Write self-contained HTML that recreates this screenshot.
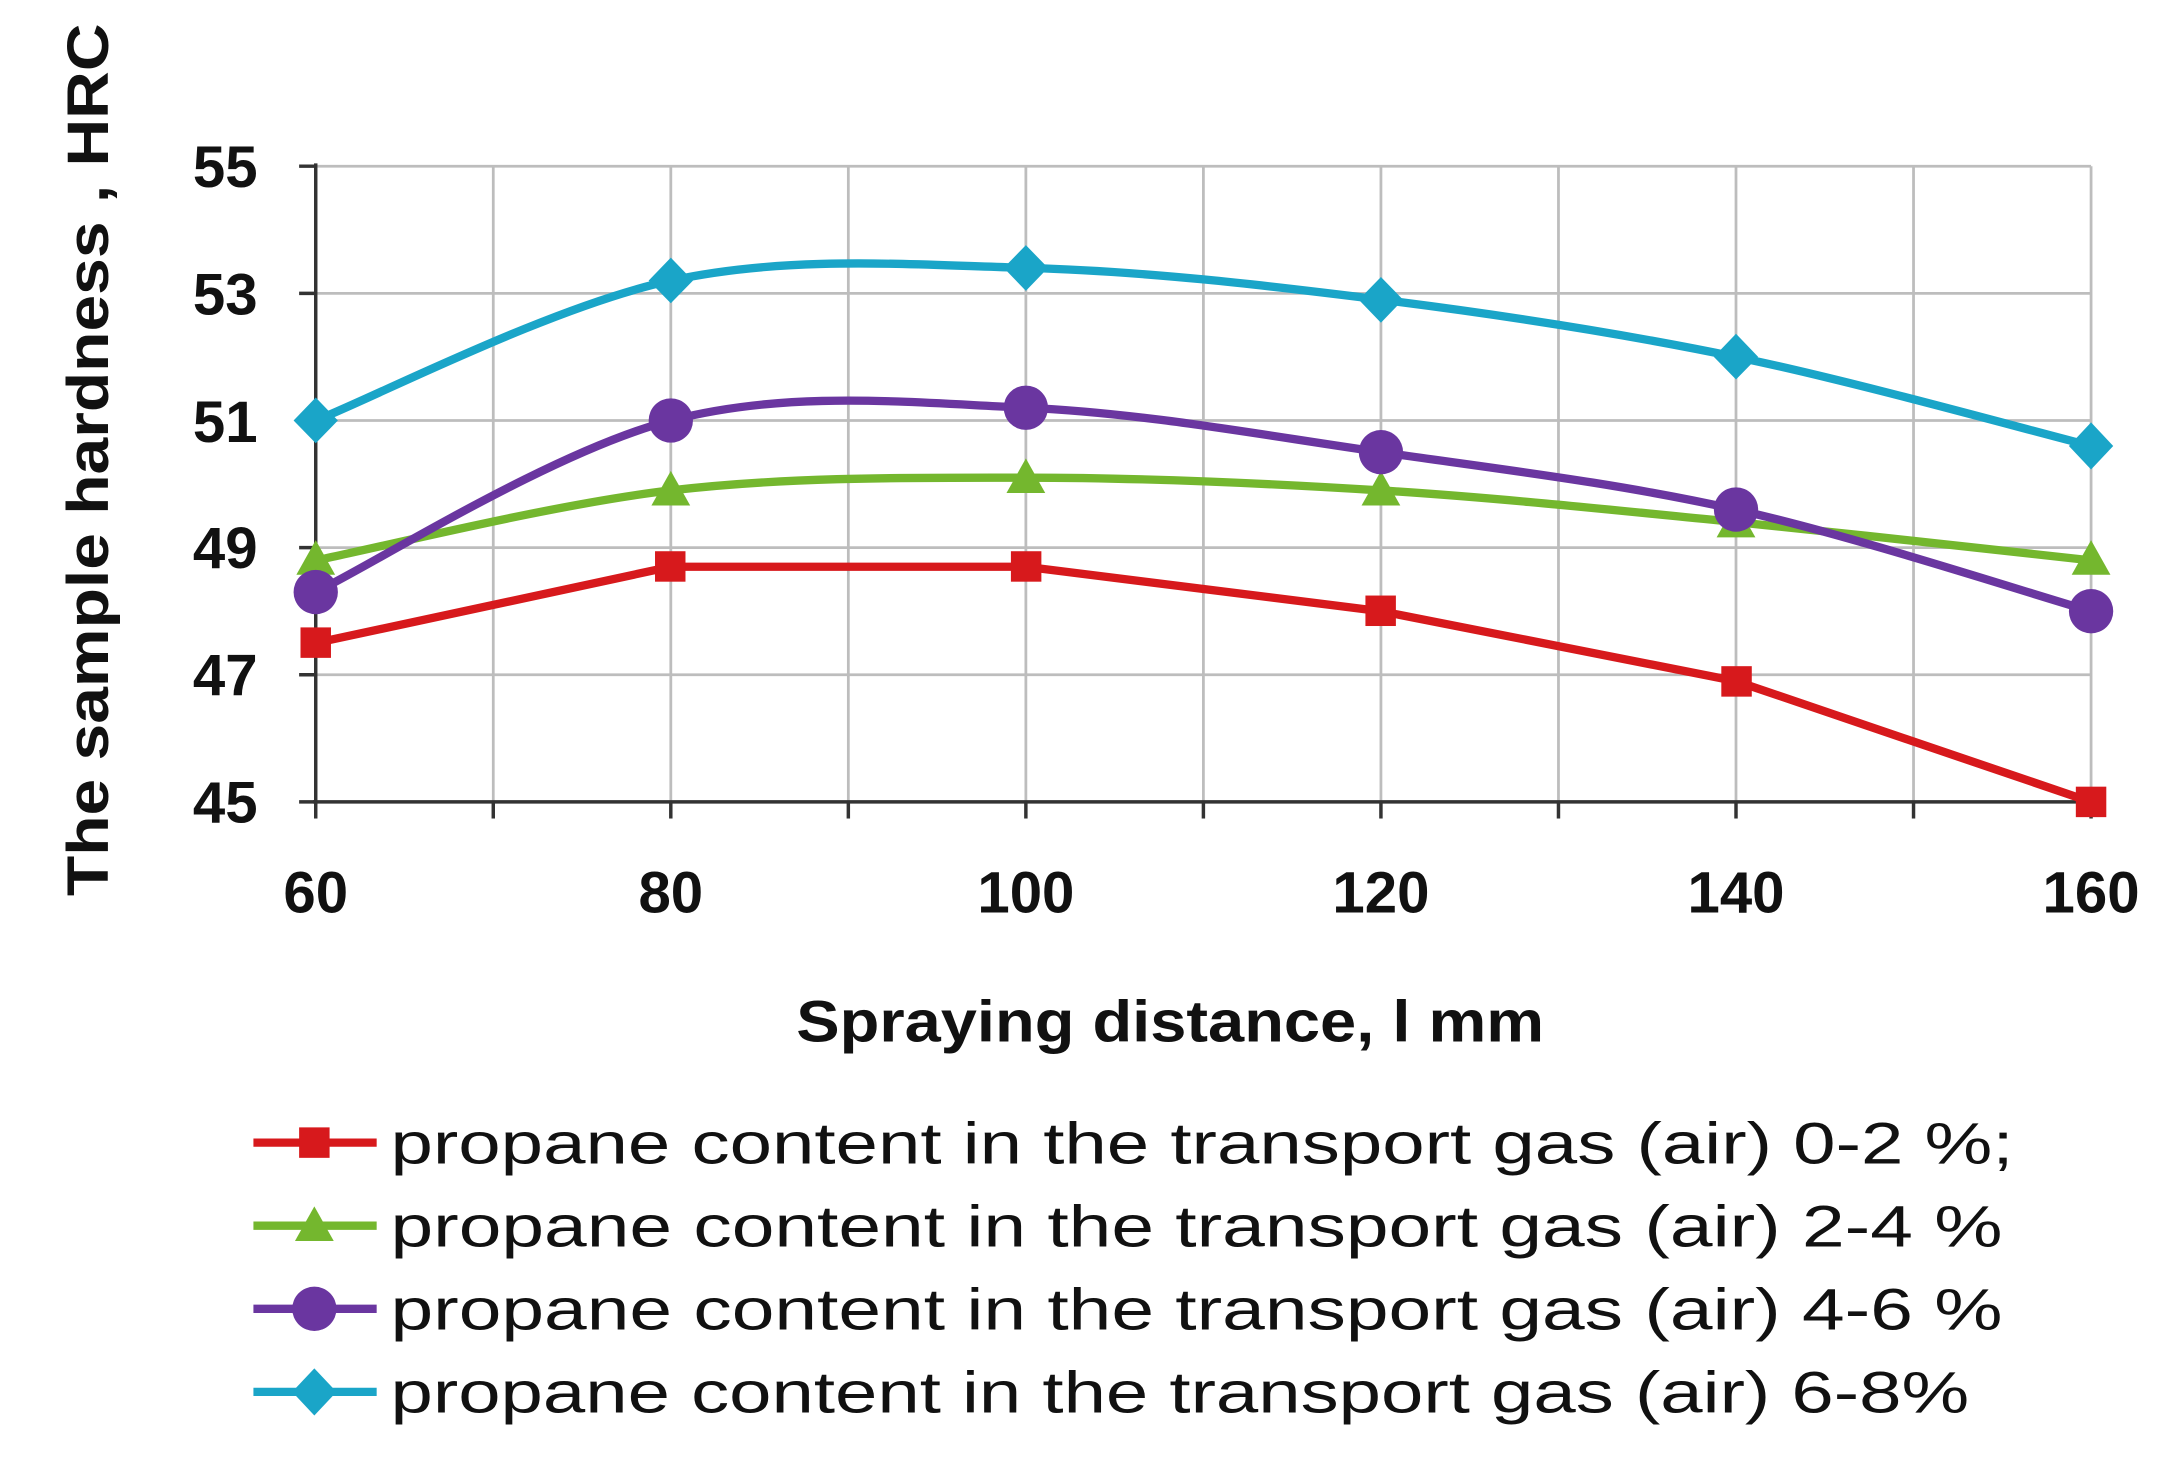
<!DOCTYPE html>
<html><head><meta charset="utf-8"><style>html,body{margin:0;padding:0;background:#fff}svg{display:block}</style></head>
<body>
<svg width="2170" height="1457" viewBox="0 0 1567 1052" preserveAspectRatio="none" xmlns="http://www.w3.org/2000/svg" font-family="'Liberation Sans', 'DejaVu Sans', sans-serif">
<rect width="1567" height="1052" fill="#fff"/>
<g stroke="#bdbdbd" stroke-width="2">
<line x1="356.2" y1="120" x2="356.2" y2="579"/><line x1="484.4" y1="120" x2="484.4" y2="579"/>
<line x1="612.6" y1="120" x2="612.6" y2="579"/><line x1="740.8" y1="120" x2="740.8" y2="579"/>
<line x1="869" y1="120" x2="869" y2="579"/><line x1="997.2" y1="120" x2="997.2" y2="579"/>
<line x1="1125.4" y1="120" x2="1125.4" y2="579"/><line x1="1253.6" y1="120" x2="1253.6" y2="579"/>
<line x1="1381.8" y1="120" x2="1381.8" y2="579"/><line x1="1510" y1="120" x2="1510" y2="579"/>
<line x1="228" y1="120" x2="1510" y2="120"/><line x1="228" y1="211.8" x2="1510" y2="211.8"/>
<line x1="228" y1="303.6" x2="1510" y2="303.6"/><line x1="228" y1="395.4" x2="1510" y2="395.4"/>
<line x1="228" y1="487.2" x2="1510" y2="487.2"/>
</g>
<g stroke="#333" stroke-width="2.5">
<line x1="228" y1="118" x2="228" y2="581"/><line x1="226" y1="579" x2="1512" y2="579"/>
<line x1="216" y1="120" x2="228" y2="120"/><line x1="216" y1="211.8" x2="228" y2="211.8"/><line x1="216" y1="303.6" x2="228" y2="303.6"/><line x1="216" y1="395.4" x2="228" y2="395.4"/><line x1="216" y1="487.2" x2="228" y2="487.2"/><line x1="216" y1="579" x2="228" y2="579"/>
<line x1="228" y1="579" x2="228" y2="591"/><line x1="356.2" y1="579" x2="356.2" y2="591"/><line x1="484.4" y1="579" x2="484.4" y2="591"/><line x1="612.6" y1="579" x2="612.6" y2="591"/><line x1="740.8" y1="579" x2="740.8" y2="591"/><line x1="869" y1="579" x2="869" y2="591"/><line x1="997.2" y1="579" x2="997.2" y2="591"/><line x1="1125.4" y1="579" x2="1125.4" y2="591"/><line x1="1253.6" y1="579" x2="1253.6" y2="591"/><line x1="1381.8" y1="579" x2="1381.8" y2="591"/><line x1="1510" y1="579" x2="1510" y2="591"/>
</g>
<g font-size="42" font-weight="bold" fill="#111" text-anchor="end">
<text x="186" y="135">55</text><text x="186" y="227">53</text><text x="186" y="319">51</text><text x="186" y="410">49</text><text x="186" y="502">47</text><text x="186" y="594">45</text>
</g>
<g font-size="42" font-weight="bold" fill="#111" text-anchor="middle">
<text x="228" y="659">60</text><text x="484.4" y="659">80</text><text x="740.8" y="659">100</text><text x="997.2" y="659">120</text><text x="1253.6" y="659">140</text><text x="1510" y="659">160</text>
</g>
<text x="845" y="752" font-size="42" font-weight="bold" text-anchor="middle" textLength="540" lengthAdjust="spacingAndGlyphs" fill="#111">Spraying distance, l mm</text>
<text transform="translate(78,332) rotate(-90)" font-size="42" font-weight="bold" text-anchor="middle" textLength="630" lengthAdjust="spacingAndGlyphs" fill="#111">The sample hardness , HRC</text>
<path d="M228,404.6 C270.7,396.2 398.9,364.05 484.4,354.1 C569.9,344.15 655.3,344.9 740.8,344.9 C826.3,344.9 911.7,348.75 997.2,354.1 C1082.7,359.45 1168.1,368.6 1253.6,377 C1339.1,385.4 1467.3,400 1510,404.6" fill="none" stroke="#74b72e" stroke-width="6"/>
<path d="M228,427.5 C270.7,406.85 398.9,325.8 484.4,303.6 C569.9,281.4 655.3,290.6 740.8,294.4 C826.3,298.2 911.7,314.25 997.2,326.5 C1082.7,338.75 1168.1,348.8 1253.6,367.9 C1339.1,387 1467.3,429.1 1510,441.3" fill="none" stroke="#6a36a0" stroke-width="6"/>
<path d="M228,303.6 C270.7,286.8 398.9,220.97 484.4,202.6 C569.9,184.2 655.3,191.1 740.8,193.4 C826.3,195.7 911.7,205.7 997.2,216.4 C1082.7,227.1 1168.1,240.1 1253.6,257.7 C1339.1,275.3 1467.3,311.3 1510,322" fill="none" stroke="#1aa5c8" stroke-width="6"/>
<polyline points="228,464.25 484.4,409.2 740.8,409.2 997.2,441.3 1253.6,491.8 1510,579" fill="none" stroke="#d7191c" stroke-width="6"/>
<g fill="#d7191c"><rect x="217" y="453" width="22" height="22"/><rect x="473" y="398" width="22" height="22"/><rect x="730" y="398" width="22" height="22"/><rect x="986" y="430" width="22" height="22"/><rect x="1243" y="481" width="22" height="22"/><rect x="1499" y="568" width="22" height="22"/></g>
<g fill="#74b72e"><polygon points="228,390 242,415 214,415"/><polygon points="484.4,340 498.4,365 470.4,365"/><polygon points="740.8,331 754.8,356 726.8,356"/><polygon points="997.2,340 1011.2,365 983.2,365"/><polygon points="1253.6,363 1267.6,388 1239.6,388"/><polygon points="1510,390 1524,415 1496,415"/></g>
<g fill="#6a36a0"><circle cx="228" cy="427.5" r="16"/><circle cx="484.4" cy="303.6" r="16"/><circle cx="740.8" cy="294.4" r="16"/><circle cx="997.2" cy="326.5" r="16"/><circle cx="1253.6" cy="367.9" r="16"/><circle cx="1510" cy="441.3" r="16"/></g>
<g fill="#1aa5c8"><polygon points="228,287 244,303.6 228,320 212,303.6"/><polygon points="484.4,186 500.4,202.6 484.4,219 468.4,202.6"/><polygon points="740.8,177 756.8,193.4 740.8,210 724.8,193.4"/><polygon points="997.2,200 1013.2,216.4 997.2,233 981.2,216.4"/><polygon points="1253.6,241 1269.6,257.7 1253.6,274 1237.6,257.7"/><polygon points="1510,305 1526,322 1510,339 1494,322"/></g>
<line x1="183" y1="825" x2="272" y2="825" stroke="#d7191c" stroke-width="6"/><rect x="216" y="814" width="22" height="22" fill="#d7191c"/>
<line x1="183" y1="885" x2="272" y2="885" stroke="#74b72e" stroke-width="6"/><polygon points="227,871 241,896 213,896" fill="#74b72e"/>
<line x1="183" y1="945" x2="272" y2="945" stroke="#6a36a0" stroke-width="6"/><circle cx="227" cy="945" r="16" fill="#6a36a0"/>
<line x1="183" y1="1005" x2="272" y2="1005" stroke="#1aa5c8" stroke-width="6"/><polygon points="227,988 243,1005 227,1022 211,1005" fill="#1aa5c8"/>
<g font-size="42" fill="#111">
<text x="282" y="840" textLength="1172" lengthAdjust="spacingAndGlyphs">propane content in the transport gas (air) 0-2 %;</text>
<text x="282" y="900" textLength="1164" lengthAdjust="spacingAndGlyphs">propane content in the transport gas (air) 2-4 %</text>
<text x="282" y="960" textLength="1164" lengthAdjust="spacingAndGlyphs">propane content in the transport gas (air) 4-6 %</text>
<text x="282" y="1020" textLength="1140" lengthAdjust="spacingAndGlyphs">propane content in the transport gas (air) 6-8%</text>
</g>
</svg>
</body></html>
